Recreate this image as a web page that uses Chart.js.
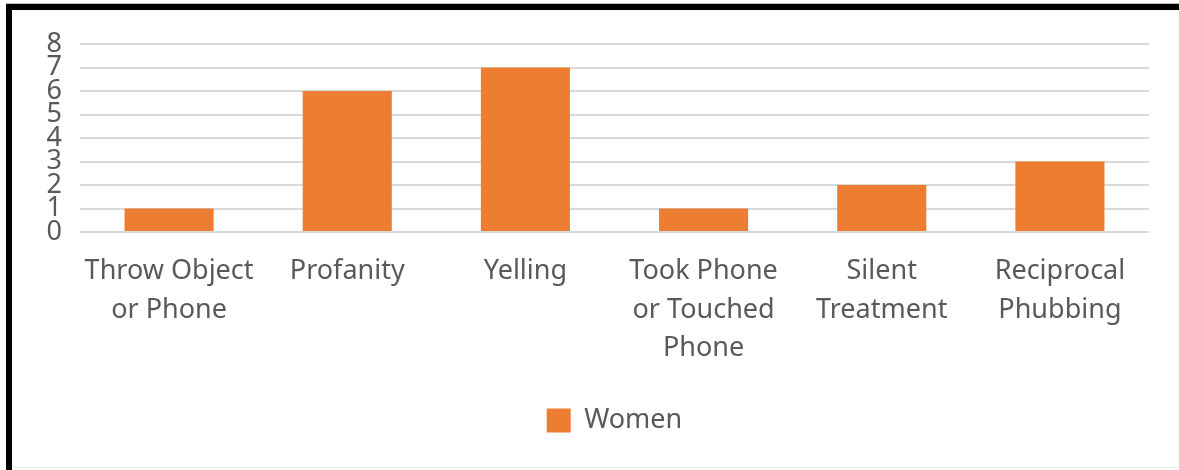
<!DOCTYPE html>
<html>
<head>
<meta charset="utf-8">
<script src="https://cdn.jsdelivr.net/npm/chart.js@4"></script>
<style>
  html, body { margin: 0; padding: 0; background: #fff; }
  #wrap { position: relative; width: 1179px; height: 470px; overflow: hidden; }
  canvas { position: absolute; left: 0; top: 0; }
  .frame-top { position: absolute; left: 6px; top: 4px; width: 1173px; height: 6px; background: #000; }
  .frame-top-edge { position: absolute; left: 6px; top: 3px; width: 1173px; height: 1px; background: #bbb; }
  .frame-left { position: absolute; left: 6px; top: 4px; width: 6px; height: 466px; background: #000; }
  .frame-bottom { position: absolute; left: 12px; top: 467px; width: 1167px; height: 1px; background: #eeeeee; }
</style>
</head>
<body>
<div id="wrap">
  <canvas id="chart" width="1179" height="470"></canvas>
  <div class="frame-top-edge"></div>
  <div class="frame-top"></div>
  <div class="frame-left"></div>
  <div class="frame-bottom"></div>
</div>
<script>
// Reported behaviours, women respondents
const categories = [
  ['Throw Object', 'or Phone'],
  ['Profanity'],
  ['Yelling'],
  ['Took Phone', 'or Touched', 'Phone'],
  ['Silent', 'Treatment'],
  ['Reciprocal', 'Phubbing']
];
const womenCounts = [1, 6, 7, 1, 2, 3];
const yTicks = [0, 1, 2, 3, 4, 5, 6, 7, 8];

const textColor = '#595959';
const fontFamily = '"Noto Sans", "Open Sans", sans-serif';

// Centre the legend under the plot area rather than the whole canvas
const legendUnderPlot = {
  id: 'legendUnderPlot',
  afterLayout(chart) {
    if (chart.legend) {
      chart.legend.left = chart.chartArea.left;
      chart.legend.right = chart.chartArea.right;
    }
  }
};

new Chart(document.getElementById('chart'), {
  type: 'bar',
  data: {
    labels: categories,
    datasets: [{
      label: 'Women',
      data: womenCounts,
      backgroundColor: '#ED7D31',
      borderWidth: 0,
      categoryPercentage: 0.5,
      barPercentage: 1.0
    }]
  },
  options: {
    responsive: false,
    animation: false,
    layout: { padding: { left: 0, top: 44, right: 30, bottom: 26 } },
    plugins: {
      tooltip: { enabled: false },
      legend: {
        position: 'bottom',
        labels: {
          color: textColor,
          font: { family: fontFamily, size: 27 },
          boxWidth: 24,
          boxHeight: 24,
          padding: 10
        }
      }
    },
    scales: {
      x: {
        grid: { display: false, drawTicks: false },
        border: { display: false },
        ticks: {
          color: textColor,
          font: { family: fontFamily, size: 27, lineHeight: 1.43 },
          padding: 20,
          maxRotation: 0,
          autoSkip: false
        },
        afterFit: (scale) => { scale.height = 165; }
      },
      y: {
        min: 0,
        max: yTicks[yTicks.length - 1],
        afterBuildTicks: (scale) => { scale.ticks = yTicks.map(v => ({ value: v })); },
        grid: { color: '#d9d9d9', lineWidth: 2, drawTicks: false },
        border: { display: false },
        ticks: {
          color: textColor,
          font: { family: fontFamily, size: 27, lineHeight: 1 },
          padding: 18,
          autoSkip: false
        },
        afterFit: (scale) => { scale.width = 80; }
      }
    }
  },
  plugins: [legendUnderPlot]
});
</script>
</body>
</html>
